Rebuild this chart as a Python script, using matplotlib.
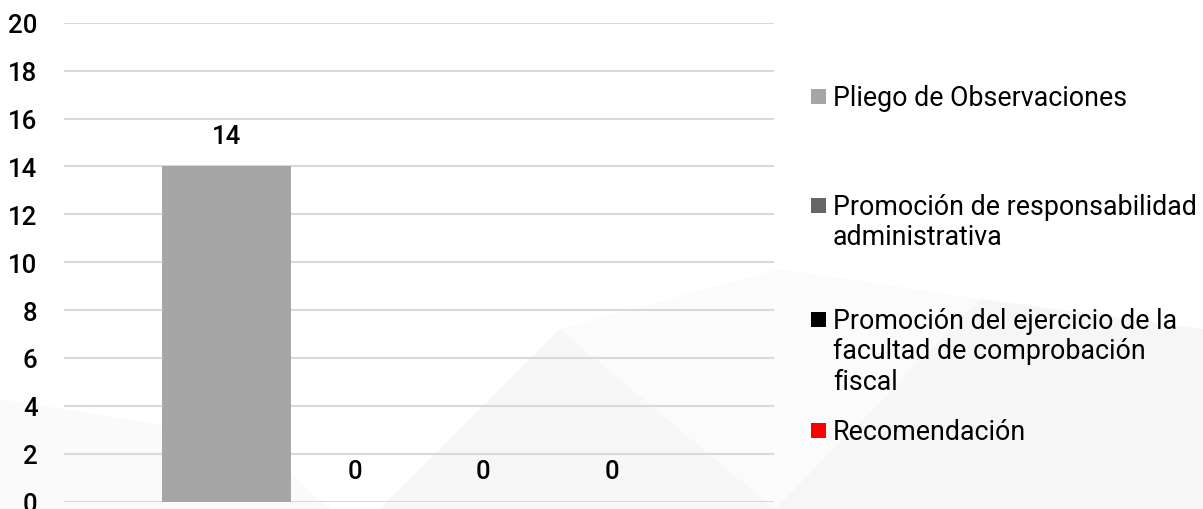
import matplotlib
matplotlib.use("Agg")
import matplotlib.pyplot as plt
from matplotlib.patches import Polygon, Rectangle

series = ["Pliego de Observaciones",
          "Promoción de responsabilidad\nadministrativa",
          "Promoción del ejercicio de la\nfacultad de comprobación\nfiscal",
          "Recomendación"]
values = [14, 0, 0, 0]
colors = ["#A6A6A6", "#666666", "#000000", "#FF0000"]
yticks = [0, 2, 4, 6, 8, 10, 12, 14, 16, 18, 20]

plt.rcParams['font.family'] = ['Roboto', 'DejaVu Sans']

W, H = 1203, 510
fig = plt.figure(figsize=(W / 100, H / 100), dpi=100)
fig.patch.set_facecolor("white")

# faint background watermark shapes
bg = [
    ([(380, 510), (560, 330), (775, 510)], "#f7f7f7"),
    ([(0, 510), (0, 400), (250, 440), (330, 510)], "#fafafa"),
    ([(775, 510), (980, 300), (1203, 330), (1203, 510)], "#f6f6f6"),
    ([(560, 330), (780, 270), (980, 300), (775, 510)], "#fbfbfb"),
]
for pts, c in bg:
    fig.patches.append(Polygon([(x / W, 1 - y / H) for x, y in pts],
                               closed=True, transform=fig.transFigure,
                               facecolor=c, edgecolor="none", zorder=-10))

left, right = 64, 774
top, bottom = 23.7, 502.7
ax = fig.add_axes([left / W, 1 - bottom / H, (right - left) / W, (bottom - top) / H])
ax.set_facecolor("none")

bw = 128.5 / (right - left)
for i, (v, c) in enumerate(zip(values, colors)):
    x = (i - 1.5) * bw
    ax.bar(x, v, width=bw, color=c, zorder=3)
    ax.annotate(str(v), (x, v), xytext=(0, 22), textcoords="offset points",
                ha="center", va="center", fontsize=18.5, fontweight="medium",
                color="#000000", zorder=4)

ax.set_xlim(-0.5, 0.5)
ax.set_ylim(0, 20)
ax.set_yticks(yticks)
ax.set_yticklabels([str(t) for t in yticks], fontsize=18.5, fontweight="medium")
ax.tick_params(axis="y", length=0, pad=19)
ax.set_xticks([])
for s in ax.spines.values():
    s.set_visible(False)
ax.yaxis.grid(True, color="#d9d9d9", linewidth=1.5, zorder=0)
ax.set_axisbelow(True)

# legend
leg_y = [97, 206, 320, 431]
for name, c, y in zip(series, colors, leg_y):
    fig.patches.append(Rectangle((811 / W, 1 - (y + 7.5) / H), 15 / W, 15 / H,
                                 transform=fig.transFigure, facecolor=c,
                                 edgecolor="none"))
    fig.text(833 / W, 1 - (y - 12) / H, name, fontsize=19.3, va="top",
             ha="left", color="#000000", linespacing=1.16)

fig.savefig("out.png", dpi=100)
